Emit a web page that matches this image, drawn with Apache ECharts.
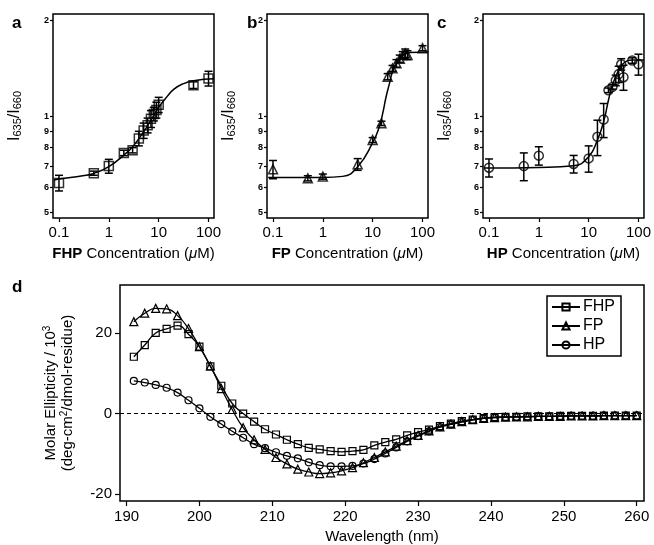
<!DOCTYPE html>
<html><head><meta charset="utf-8">
<script src="https://cdn.jsdelivr.net/npm/echarts@6/dist/echarts.min.js"></script>
<style>html,body{margin:0;padding:0;background:#fff}#c{width:654px;height:545px}</style>
</head><body><div id="c"></div>
<script>
// ---------- Panel a: FHP ----------
const fhpConc  = [0.1, 0.5, 1, 2, 3, 4, 5, 6, 7, 8, 9, 10, 50, 100];
const fhpRatio = [0.62, 0.665, 0.70, 0.77, 0.785, 0.855, 0.905, 0.94, 0.985, 1.02, 1.05, 1.09, 1.256, 1.318];
const fhpErr   = [0.035, 0.01, 0.035, 0.015, 0.015, 0.045, 0.05, 0.05, 0.06, 0.05, 0.06, 0.06, 0.03, 0.07];
const fhpFitConc  = [0.08, 0.1, 0.3, 0.5, 1, 2, 3, 5, 7, 10, 15, 20, 30, 50, 130];
const fhpFitRatio = [0.633, 0.638, 0.653, 0.664, 0.697, 0.758, 0.805, 0.897, 0.976, 1.07, 1.16, 1.218, 1.266, 1.297, 1.315];
// ---------- Panel b: FP ----------
const fpConc  = [0.1, 0.5, 1, 5, 10, 15, 20, 25, 30, 35, 40, 45, 50, 100];
const fpRatio = [0.684, 0.641, 0.649, 0.709, 0.845, 0.953, 1.335, 1.418, 1.47, 1.52, 1.56, 1.58, 1.56, 1.64];
const fpErr   = [0.045, 0.012, 0.012, 0.03, 0.015, 0.015, 0.03, 0.03, 0.04, 0.04, 0.04, 0.05, 0.05, 0.03];
const fpFitConc  = [0.08, 0.1, 1, 2.5, 5, 10, 13.6, 15.9, 18.6, 21.7, 25, 32, 40, 55, 130];
const fpFitRatio = [0.645, 0.645, 0.645, 0.65, 0.697, 0.829, 0.93, 1.024, 1.155, 1.27, 1.38, 1.49, 1.56, 1.59, 1.595];
// ---------- Panel c: HP ----------
const hpConc  = [0.1, 0.5, 1, 5, 10, 15, 20, 25, 30, 35, 40, 45, 50, 75, 100];
const hpRatio = [0.692, 0.70, 0.755, 0.711, 0.74, 0.865, 0.98, 1.21, 1.24, 1.30, 1.36, 1.46, 1.33, 1.50, 1.46];
const hpErr   = [0.045, 0.07, 0.05, 0.045, 0.07, 0.11, 0.12, 0.02, 0.02, 0.05, 0.08, 0.06, 0.12, 0.03, 0.11];
const hpFitConc  = [0.08, 0.1, 1, 5, 10, 15, 20, 25, 30, 40, 50, 75, 130];
const hpFitRatio = [0.69, 0.69, 0.693, 0.702, 0.749, 0.845, 0.965, 1.128, 1.257, 1.40, 1.47, 1.505, 1.505];
// ---------- Axis ticks (panels a-c) ----------
const concTicks  = [0.1, 1, 10, 100];
const concLabels = ['0.1', '1', '10', '100'];
const ratioTicks  = [0.5, 0.6, 0.7, 0.8, 0.9, 1, 2];
const ratioLabels = ['5', '6', '7', '8', '9', '1', '2'];
// ---------- Panel d: CD spectra ----------
const wavelength = [191,192.5,194,195.5,197,198.5,200,201.5,203,204.5,206,207.5,209,210.5,212,213.5,215,216.5,218,219.5,221,222.5,224,225.5,227,228.5,230,231.5,233,234.5,236,237.5,239,240.5,242,243.5,245,246.5,248,249.5,251,252.5,254,255.5,257,258.5,260];
const cdFHP = [14.1,17.0,20.0,21.0,21.8,19.7,16.6,11.7,6.9,2.5,0.0,-2.0,-3.9,-5.2,-6.5,-7.6,-8.5,-8.9,-9.3,-9.5,-9.3,-9.0,-7.9,-7.1,-6.4,-5.4,-4.6,-4.0,-3.1,-2.5,-1.9,-1.5,-1.1,-0.9,-0.8,-0.8,-0.7,-0.7,-0.7,-0.6,-0.6,-0.6,-0.6,-0.5,-0.5,-0.5,-0.5];
const cdFP  = [22.8,24.9,26.1,26.0,24.3,21.1,16.6,11.8,6.2,1.0,-3.5,-6.5,-8.9,-10.9,-12.5,-13.8,-14.5,-14.9,-14.7,-14.2,-13.4,-12.2,-10.9,-9.5,-8.1,-6.7,-5.4,-4.3,-3.3,-2.6,-2.0,-1.5,-1.2,-1.0,-0.9,-0.8,-0.8,-0.7,-0.7,-0.7,-0.6,-0.6,-0.6,-0.5,-0.5,-0.5,-0.5];
const cdHP  = [8.1,7.7,7.1,6.4,5.2,3.3,1.3,-0.8,-2.6,-4.4,-6.0,-7.6,-8.6,-9.6,-10.5,-11.1,-12.1,-12.8,-13.1,-13.1,-13.0,-12.4,-11.3,-9.9,-8.4,-6.9,-5.6,-4.4,-3.4,-2.7,-2.1,-1.6,-1.2,-1.0,-0.9,-0.8,-0.8,-0.7,-0.7,-0.7,-0.6,-0.6,-0.6,-0.5,-0.5,-0.5,-0.5];
const cdYTicks = [-20, 0, 20];
const cdXTicks = [190, 200, 210, 220, 230, 240, 250, 260];

const FONT = 'Liberation Sans, Arial, Helvetica, sans-serif';
const L = Math.log10;
const chart = echarts.init(document.getElementById('c'), null, {renderer: 'canvas'});

function errRender(params, api) {
  const x = api.value(0), lo = api.value(1), hi = api.value(2);
  const p1 = api.coord([x, lo]), p2 = api.coord([x, hi]);
  const w = 4;
  const style = {stroke: '#000', lineWidth: 1.5, fill: null};
  return {type: 'group', children: [
    {type: 'line', shape: {x1: p1[0], y1: p1[1], x2: p2[0], y2: p2[1]}, style: style},
    {type: 'line', shape: {x1: p1[0]-w, y1: p1[1], x2: p1[0]+w, y2: p1[1]}, style: style},
    {type: 'line', shape: {x1: p2[0]-w, y1: p2[1], x2: p2[0]+w, y2: p2[1]}, style: style}
  ]};
}

const panels = [
  {left: 53,  conc: fhpConc, ratio: fhpRatio, err: fhpErr, fx: fhpFitConc, fy: fhpFitRatio, sym: 'rect', size: 9, name: 'FHP'},
  {left: 267, conc: fpConc,  ratio: fpRatio,  err: fpErr,  fx: fpFitConc,  fy: fpFitRatio,  sym: 'triangle', size: 9, name: 'FP'},
  {left: 483, conc: hpConc,  ratio: hpRatio,  err: hpErr,  fx: hpFitConc,  fy: hpFitRatio,  sym: 'circle', size: 9, name: 'HP'}
];

const grids = [], xAxes = [], yAxes = [], series = [];
panels.forEach((p, i) => {
  grids.push({left: p.left, top: 14, width: 161, height: 204, show: true, borderColor: '#000', borderWidth: 1.5, backgroundColor: 'transparent'});
  xAxes.push({
    type: 'value', gridIndex: i, min: -1.12, max: 2.11, position: 'bottom',
    axisLine: {show: false, onZero: false}, splitLine: {show: false},
    axisTick: {show: true, customValues: concTicks.map(L), length: 4, lineStyle: {color: '#000', width: 1.2}},
    axisLabel: {customValues: concTicks.map(L), color: '#000', fontFamily: FONT, fontSize: 15, margin: 7,
      formatter: v => concLabels[concTicks.findIndex(t => Math.abs(L(t) - v) < 1e-6)]},
    name: '{b|' + p.name + '}{n| Concentration (}{i|\u03bc}{n|M)}',
    nameLocation: 'middle', nameGap: 28,
    nameTextStyle: {rich: {
      b: {fontFamily: FONT, fontSize: 15, fontWeight: 'bold', color: '#000'},
      n: {fontFamily: FONT, fontSize: 15, color: '#000'},
      i: {fontFamily: FONT, fontSize: 15, fontStyle: 'italic', color: '#000'}
    }}
  });
  yAxes.push({
    type: 'value', gridIndex: i, min: -0.3176, max: 0.322, position: 'left',
    axisLine: {show: false, onZero: false}, splitLine: {show: false},
    axisTick: {show: true, customValues: ratioTicks.map(L), length: 3, lineStyle: {color: '#000', width: 1.2}},
    axisLabel: {customValues: ratioTicks.map(L), color: '#000', fontFamily: FONT, fontSize: 9, fontWeight: 'bold', margin: 4,
      formatter: v => ratioLabels[ratioTicks.findIndex(t => Math.abs(L(t) - v) < 1e-6)]},
    name: '{n|I}{s|635}{n|/I}{s|660}', nameLocation: 'middle', nameGap: 30, nameRotate: 90,
    nameTextStyle: {rich: {
      n: {fontFamily: FONT, fontSize: 16, color: '#000'},
      s: {fontFamily: FONT, fontSize: 11, color: '#000', verticalAlign: 'bottom', padding: [6, 0, 0, 0]}
    }}
  });
  series.push({
    type: 'line', xAxisIndex: i, yAxisIndex: i, smooth: true, showSymbol: false, symbol: 'none',
    lineStyle: {color: '#000', width: 1.5}, data: p.fx.map((c, k) => [L(c), L(p.fy[k])]), z: 2, silent: true
  });
  series.push({
    type: 'custom', xAxisIndex: i, yAxisIndex: i, renderItem: errRender, z: 3, silent: true,
    data: p.conc.map((c, k) => [L(c), L(p.ratio[k] - p.err[k]), L(p.ratio[k] + p.err[k])])
  });
  series.push({
    type: 'scatter', xAxisIndex: i, yAxisIndex: i, symbol: p.sym, symbolSize: p.size, z: 4, silent: true,
    itemStyle: {color: 'rgba(0,0,0,0)', borderColor: '#000', borderWidth: 1.5},
    data: p.conc.map((c, k) => [L(c), L(p.ratio[k])])
  });
});

// Panel d
grids.push({left: 120, top: 285, width: 524, height: 217, show: true, borderColor: '#000', borderWidth: 1.5, backgroundColor: 'transparent'});
xAxes.push({
  type: 'value', gridIndex: 3, min: 189.1, max: 261, position: 'bottom',
  axisLine: {show: false, onZero: false}, splitLine: {show: false},
  axisTick: {show: true, customValues: cdXTicks, length: 5, lineStyle: {color: '#000', width: 1.2}},
  axisLabel: {customValues: cdXTicks, color: '#000', fontFamily: FONT, fontSize: 15, margin: 8},
  name: 'Wavelength (nm)', nameLocation: 'middle', nameGap: 28,
  nameTextStyle: {fontFamily: FONT, fontSize: 15, color: '#000'}
});
yAxes.push({
  type: 'value', gridIndex: 3, min: -21.7, max: 31.9, position: 'left',
  axisLine: {show: false, onZero: false}, splitLine: {show: false},
  axisTick: {show: true, customValues: cdYTicks, length: 5, lineStyle: {color: '#000', width: 1.2}},
  axisLabel: {customValues: cdYTicks, color: '#000', fontFamily: FONT, fontSize: 15, margin: 8},
  name: '{n|Molar Ellipticity / 10}{s|3}\n{n|(deg-cm}{s|2}{n|/dmol-residue)}',
  nameLocation: 'middle', nameGap: 44, nameRotate: 90,
  nameTextStyle: {lineHeight: 17, rich: {
    n: {fontFamily: FONT, fontSize: 15, color: '#000', lineHeight: 17},
    s: {fontFamily: FONT, fontSize: 10, color: '#000', verticalAlign: 'top', lineHeight: 17}
  }}
});
const cdDefs = [
  {name: 'FHP', data: cdFHP, sym: 'rect', size: 7},
  {name: 'FP',  data: cdFP,  sym: 'triangle', size: 8},
  {name: 'HP',  data: cdHP,  sym: 'circle', size: 7}
];
cdDefs.forEach((d, k) => {
  const s = {
    type: 'line', name: d.name, xAxisIndex: 3, yAxisIndex: 3, smooth: true,
    symbol: d.sym, symbolSize: d.size, showSymbol: true, silent: true,
    lineStyle: {color: '#000', width: 1.3},
    itemStyle: {color: 'rgba(0,0,0,0)', borderColor: '#000', borderWidth: 1.2},
    data: wavelength.map((w, i) => [w, d.data[i]])
  };
  if (k === 0) {
    s.markLine = {silent: true, symbol: 'none', label: {show: false},
      lineStyle: {color: '#000', type: [4, 3], width: 1}, data: [{yAxis: 0}]};
  }
  series.push(s);
});

chart.setOption({
  animation: false,
  backgroundColor: '#fff',
  grid: grids, xAxis: xAxes, yAxis: yAxes, series: series,
  legend: {
    left: 547, top: 296, orient: 'vertical', itemWidth: 28, itemHeight: 9, itemGap: 3,
    padding: [3, 6, 3, 4], borderColor: '#000', borderWidth: 1.5, backgroundColor: '#fff',
    textStyle: {fontFamily: FONT, fontSize: 16, color: '#000', padding: [0, 0, 0, -2]},
    data: ['FHP', 'FP', 'HP']
  },
  graphic: [
    {type: 'text', left: 12, top: 15, style: {text: 'a', font: 'bold 17px ' + FONT, fill: '#000'}},
    {type: 'text', left: 247, top: 15, style: {text: 'b', font: 'bold 17px ' + FONT, fill: '#000'}},
    {type: 'text', left: 437, top: 15, style: {text: 'c', font: 'bold 17px ' + FONT, fill: '#000'}},
    {type: 'text', left: 12, top: 279, style: {text: 'd', font: 'bold 17px ' + FONT, fill: '#000'}}
  ]
});
</script></body></html>
